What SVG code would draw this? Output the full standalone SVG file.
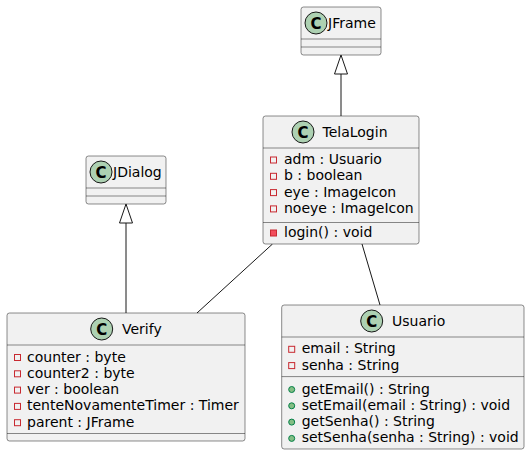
<svg xmlns="http://www.w3.org/2000/svg" width="530" height="455" viewBox="0 0 530 455">
<style>
.box{fill:#F1F1F1;stroke:#181818;stroke-width:0.5}
.sep{stroke:#181818;stroke-width:0.5}
.ci{fill:#ADD1B2;stroke:#181818;stroke-width:1}
.cl{font-family:"DejaVu Sans","Liberation Sans",sans-serif;font-size:15px;font-weight:bold;fill:#000;text-anchor:middle}
.t{font-family:"DejaVu Sans","Liberation Sans",sans-serif;font-size:14px;fill:#000}
.pf{fill:none;stroke:#C82930;stroke-width:1}
.pm{fill:#F24D5C;stroke:#C82930;stroke-width:1}
.pub{fill:#84BE84;stroke:#038048;stroke-width:1}
.edge{stroke:#181818;stroke-width:1;fill:none}
.tri{stroke:#181818;stroke-width:1;fill:#FFFFFF}
</style>
<rect width="530" height="455" fill="#FFFFFF"/>
<g id="connectors">
<line class="edge" x1="341" y1="116" x2="341" y2="74"/>
<polygon class="tri" points="341,55 334.5,74 347.5,74"/>
<line class="edge" x1="126" y1="313" x2="126" y2="223"/>
<polygon class="tri" points="126,204 119.5,223 132.5,223"/>
<line class="edge" x1="272.5" y1="244" x2="197" y2="313"/>
<line class="edge" x1="362" y1="244" x2="380" y2="305"/>
</g>
<g id="JFrame">
<rect class="box" x="301" y="7" width="80" height="48" rx="2.5"/>
<line class="sep" x1="301" y1="39" x2="381" y2="39"/>
<line class="sep" x1="301" y1="47" x2="381" y2="47"/>
<circle class="ci" cx="316" cy="23" r="11"/>
<text class="cl" x="316" y="28.5">C</text>
<text class="t" x="328" y="28">JFrame</text>
</g>
<g id="JDialog">
<rect class="box" x="86" y="156" width="80" height="48" rx="2.5"/>
<line class="sep" x1="86" y1="188" x2="166" y2="188"/>
<line class="sep" x1="86" y1="196" x2="166" y2="196"/>
<circle class="ci" cx="101" cy="172" r="11"/>
<text class="cl" x="101" y="177.5">C</text>
<text class="t" x="113" y="177">JDialog</text>
</g>
<g id="TelaLogin">
<rect class="box" x="263" y="116" width="156" height="128" rx="2.5"/>
<line class="sep" x1="263" y1="148" x2="419" y2="148"/>
<line class="sep" x1="263" y1="222.5" x2="419" y2="222.5"/>
<circle class="ci" cx="303" cy="132" r="11"/>
<text class="cl" x="303" y="137.5">C</text>
<text class="t" x="322.5" y="137">TelaLogin</text>
<rect class="pf" x="270.5" y="157" width="6" height="6"/>
<text class="t" x="284" y="164">adm : Usuario</text>
<rect class="pf" x="270.5" y="173.3" width="6" height="6"/>
<text class="t" x="284" y="180.3">b : boolean</text>
<rect class="pf" x="270.5" y="189.6" width="6" height="6"/>
<text class="t" x="284" y="196.6">eye : ImageIcon</text>
<rect class="pf" x="270.5" y="205.9" width="6" height="6"/>
<text class="t" x="284" y="212.9">noeye : ImageIcon</text>
<rect class="pm" x="270.5" y="230" width="6" height="6"/>
<text class="t" x="284" y="237">login() : void</text>
</g>
<g id="Verify">
<rect class="box" x="7" y="313" width="238" height="128" rx="2.5"/>
<line class="sep" x1="7" y1="345" x2="245" y2="345"/>
<line class="sep" x1="7" y1="433.5" x2="245" y2="433.5"/>
<circle class="ci" cx="101.7" cy="329" r="11"/>
<text class="cl" x="101.7" y="334.5">C</text>
<text class="t" x="122" y="334">Verify</text>
<rect class="pf" x="14.5" y="354.5" width="6" height="6"/>
<text class="t" x="27" y="361.5">counter : byte</text>
<rect class="pf" x="14.5" y="370.8" width="6" height="6"/>
<text class="t" x="27" y="377.8">counter2 : byte</text>
<rect class="pf" x="14.5" y="387.1" width="6" height="6"/>
<text class="t" x="27" y="394.1">ver : boolean</text>
<rect class="pf" x="14.5" y="403.4" width="6" height="6"/>
<text class="t" x="27" y="410.4">tenteNovamenteTimer : Timer</text>
<rect class="pf" x="14.5" y="419.7" width="6" height="6"/>
<text class="t" x="27" y="426.7">parent : JFrame</text>
</g>
<g id="Usuario">
<rect class="box" x="281.7" y="305" width="242.3" height="144" rx="2.5"/>
<line class="sep" x1="281.7" y1="337" x2="524" y2="337"/>
<line class="sep" x1="281.7" y1="376.6" x2="524" y2="376.6"/>
<circle class="ci" cx="371.7" cy="321" r="11"/>
<text class="cl" x="371.7" y="326.5">C</text>
<text class="t" x="392" y="326">Usuario</text>
<rect class="pf" x="288.7" y="346.3" width="6" height="6"/>
<text class="t" x="301.7" y="353.3">email : String</text>
<rect class="pf" x="288.7" y="362.6" width="6" height="6"/>
<text class="t" x="301.7" y="369.6">senha : String</text>
<circle class="pub" cx="291.7" cy="389.5" r="3"/>
<text class="t" x="301.7" y="393.5">getEmail() : String</text>
<circle class="pub" cx="291.7" cy="405.8" r="3"/>
<text class="t" x="301.7" y="409.8">setEmail(email : String) : void</text>
<circle class="pub" cx="291.7" cy="422.1" r="3"/>
<text class="t" x="301.7" y="426.1">getSenha() : String</text>
<circle class="pub" cx="291.7" cy="438.4" r="3"/>
<text class="t" x="301.7" y="442.4">setSenha(senha : String) : void</text>
</g>
</svg>
